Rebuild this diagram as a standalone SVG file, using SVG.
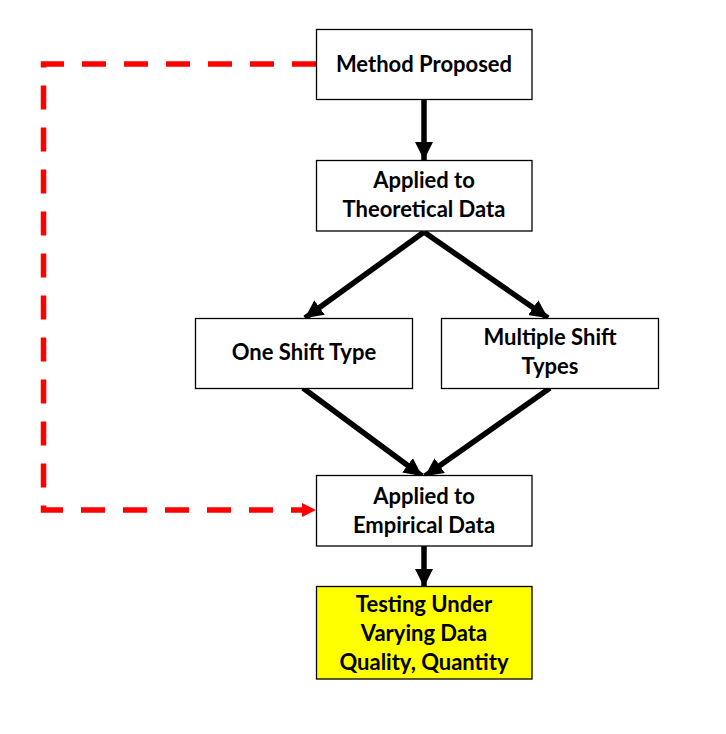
<svg xmlns="http://www.w3.org/2000/svg" width="726" height="734" viewBox="0 0 726 734">
<style>
.box{fill:#fff;stroke:#000;stroke-width:1.3}
.hl{fill:#ffff00;stroke:#000;stroke-width:1.3}
.t{font-family:Lato,"Liberation Sans",sans-serif;font-weight:bold;font-size:22px;fill:#000;text-anchor:middle}
.c{stroke:#000;stroke-width:5.5;fill:none}
.d{stroke:#ff0000;stroke-width:5.5;fill:none;stroke-dasharray:24 18}
</style>
<defs>
<marker id="ah" markerUnits="userSpaceOnUse" viewBox="0 0 18 18" refX="18" refY="9" markerWidth="18" markerHeight="18" orient="auto">
<path d="M0,0 L18,9 L0,18 Z" fill="#000"/>
</marker>
</defs>
<rect width="726" height="734" fill="#fff"/>
<g id="connectors">
<line class="c" x1="424" y1="99" x2="424" y2="160" marker-end="url(#ah)"/>
<line class="c" x1="424" y1="232" x2="305" y2="318" marker-end="url(#ah)"/>
<line class="c" x1="424" y1="232" x2="548" y2="318" marker-end="url(#ah)"/>
<line class="c" x1="303" y1="388" x2="422" y2="476" marker-end="url(#ah)"/>
<line class="c" x1="550" y1="388" x2="425" y2="476" marker-end="url(#ah)"/>
<line class="c" x1="424" y1="546" x2="424" y2="587" marker-end="url(#ah)"/>
<path class="d" d="M316,64 L43.5,64 L43.5,510 L302,510"/>
<path d="M302,503 L316,510 L302,517 Z" fill="#ff0000"/>
</g>
<g id="method">
<rect class="box" x="316.5" y="29.5" width="215.5" height="70"/>
<text class="t" x="424" y="72">Method Proposed</text>
</g>
<g id="theoretical">
<rect class="box" x="316.5" y="160.5" width="215.5" height="70.5"/>
<text class="t" x="424" y="188">Applied to</text>
<text class="t" x="424" y="217">Theoretical Data</text>
</g>
<g id="oneshift">
<rect class="box" x="195.5" y="318.5" width="217" height="70"/>
<text class="t" x="304" y="360">One Shift Type</text>
</g>
<g id="multishift">
<rect class="box" x="441.5" y="318.5" width="217" height="70"/>
<text class="t" x="550" y="345">Multiple Shift</text>
<text class="t" x="550" y="374">Types</text>
</g>
<g id="empirical">
<rect class="box" x="316.5" y="475.5" width="215.5" height="70.5"/>
<text class="t" x="424" y="504">Applied to</text>
<text class="t" x="424" y="533">Empirical Data</text>
</g>
<g id="testing">
<rect class="hl" x="316.5" y="586.5" width="215.5" height="92.5"/>
<text class="t" x="424" y="612">Testing Under</text>
<text class="t" x="424" y="641">Varying Data</text>
<text class="t" x="424" y="670">Quality, Quantity</text>
</g>
</svg>
